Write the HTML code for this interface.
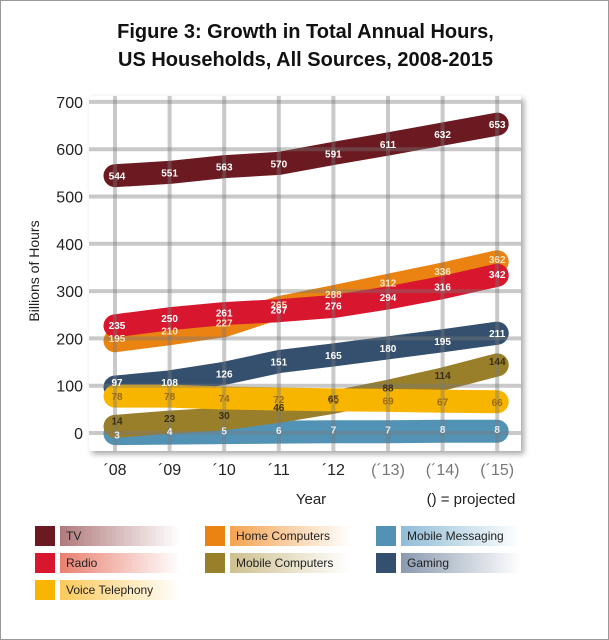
<!DOCTYPE html>
<html><head><meta charset="utf-8">
<style>
body{margin:0;background:#fff;font-family:"Liberation Sans",sans-serif;}
#wrap{position:absolute;left:0;top:0;width:607px;height:638px;border:1px solid #999;box-shadow:1px 1px 2px #888;background:#fff;overflow:hidden}
.title{position:absolute;left:0;width:609px;text-align:center;font-weight:bold;font-size:20px;line-height:28px;color:#111}
.sw{position:absolute;width:20px;height:20px}
.lb{position:absolute;height:20px;width:120px;font-size:12px;line-height:20px;padding-left:6px;color:#222;box-sizing:border-box;font-family:"Liberation Sans Narrow","Liberation Sans",sans-serif}
</style></head><body>
<div id="wrap">
<div class="title" style="top:17px">Figure 3: Growth in Total Annual Hours,<br>US Households, All Sources, 2008-2015</div>
<svg id="chart" width="609" height="520" style="position:absolute;left:0;top:0"></svg>
<div id="legend"></div>
</div>
<script>
const years=["´08","´09","´10","´11","´12","(´13)","(´14)","(´15)"];
const yTicks=[0,100,200,300,400,500,600,700];
const tv=[544,551,563,570,591,611,632,653];
const radio=[235,250,261,267,276,294,316,342];
const homeComputers=[195,210,227,265,288,312,336,362];
const gaming=[97,108,126,151,165,180,195,211];
const voice=[78,78,74,72,70,69,67,66];
const mobileComputers=[14,23,30,46,65,88,114,144];
const mobileMessaging=[3,4,5,6,7,7,8,8];
const NS="http://www.w3.org/2000/svg";
const svg=document.getElementById('chart');
function x(i){return 114+i*54.6;}
function y(v){return 432-v*0.473;}
function mk(t,a){const e=document.createElementNS(NS,t);for(const k in a)e.setAttribute(k,a[k]);svg.appendChild(e);return e;}
const bg=mk('rect',{x:88,y:95,width:432,height:355,fill:'#fff',style:'filter:drop-shadow(3px 3px 3px rgba(0,0,0,0.35))'});


const series=[
 {n:'mobile-messaging',d:mobileMessaging,c:'#5293b5',t:'#e8f0f5',o:2,l:4},
 {n:'gaming',d:gaming,c:'#34506e',t:'#fff',o:0,l:4},
 {n:'mobile-computers',d:mobileComputers,c:'#9a7f2b',t:'#3a2e10',o:0,l:0},
 {n:'voice-telephony',d:voice,c:'#f8b500',t:'#9a6a10',o:0,l:4},
 {n:'home-computers',d:homeComputers,c:'#ea8312',t:'#fde4c0',o:0,l:1},
 {n:'radio',d:radio,c:'#d8162e',t:'#fff',o:4,l:7},
 {n:'tv',d:tv,c:'#6a1a20',t:'#fff',o:0,l:4}
];
series.forEach(s=>{
 const p=mk('path',{d:s.d.map((v,i)=>(i?'L':'M')+x(i)+','+(y(v)+s.o)).join(' '),fill:'none',stroke:s.c,'stroke-width':23,'stroke-linecap':'round','stroke-linejoin':'round'});
 
 
});
yTicks.forEach(v=>{
 const l=mk('line',{x1:88,x2:520,y1:y(v),y2:y(v),stroke:'rgba(120,120,120,0.4)','stroke-width':4});
 
 
 const t=mk('text',{x:82,y:y(v)+6,'text-anchor':'end','font-size':16,fill:'#222'});t.textContent=v;
 
 
});
years.forEach((yr,i)=>{
 const l=mk('line',{x1:x(i),x2:x(i),y1:95,y2:450,stroke:'rgba(120,120,120,0.4)','stroke-width':4});
 
 
 const t=mk('text',{x:x(i),y:474,'text-anchor':'middle','font-size':16,fill:i>4?'#777':'#222'});t.textContent=yr;
 
 
});
series.forEach(s=>{
 s.d.forEach((v,i)=>{
  let dy=s.l;
  if(s.n==='gaming'&&i===0)dy=-1;
  if(s.n==='mobile-computers'&&i===0)dy=-2;
  if(s.n==='mobile-messaging'&&i===0)dy=7;
  const t=mk('text',{x:x(i)+(i===0?2:0),y:y(v)+dy,'text-anchor':'middle','font-size':10,'font-weight':'bold',fill:s.t});
  t.textContent=v;
  
  
 });
});
let t=mk('text',{x:38,y:270,'text-anchor':'middle','font-size':14,fill:'#222',transform:'rotate(-90 38 270)'});t.textContent='Billions of Hours';

t=mk('text',{x:310,y:503,'text-anchor':'middle','font-size':15,fill:'#222'});t.textContent='Year';

t=mk('text',{x:470,y:503,'text-anchor':'middle','font-size':15,fill:'#222'});t.textContent='() = projected';

const leg=[
 ['TV','#6a1a20',34,525,'#b07a7c'],['Radio','#d8162e',34,552,'#e98070'],['Voice Telephony','#f8b500',34,579,'#fbc95a'],
 ['Home Computers','#ea8312',204,525,'#f5a350'],['Mobile Computers','#9a7f2b',204,552,'#cfc090'],
 ['Mobile Messaging','#5293b5',375,525,'#90bcd6'],['Gaming','#34506e',375,552,'#8a9ab0']];
const L=document.getElementById('legend');
leg.forEach(e=>{
 const s=document.createElement('div');s.className='sw';s.style.left=e[2]+'px';s.style.top=e[3]+'px';s.style.background=e[1];
 
 
 L.appendChild(s);
 const b=document.createElement('div');b.className='lb';b.style.left=(e[2]+25)+'px';b.style.top=e[3]+'px';
 b.style.background='linear-gradient(to right,'+e[4]+',rgba(255,255,255,0))';b.textContent=e[0];
 
 
 L.appendChild(b);
});
</script>
</body></html>
